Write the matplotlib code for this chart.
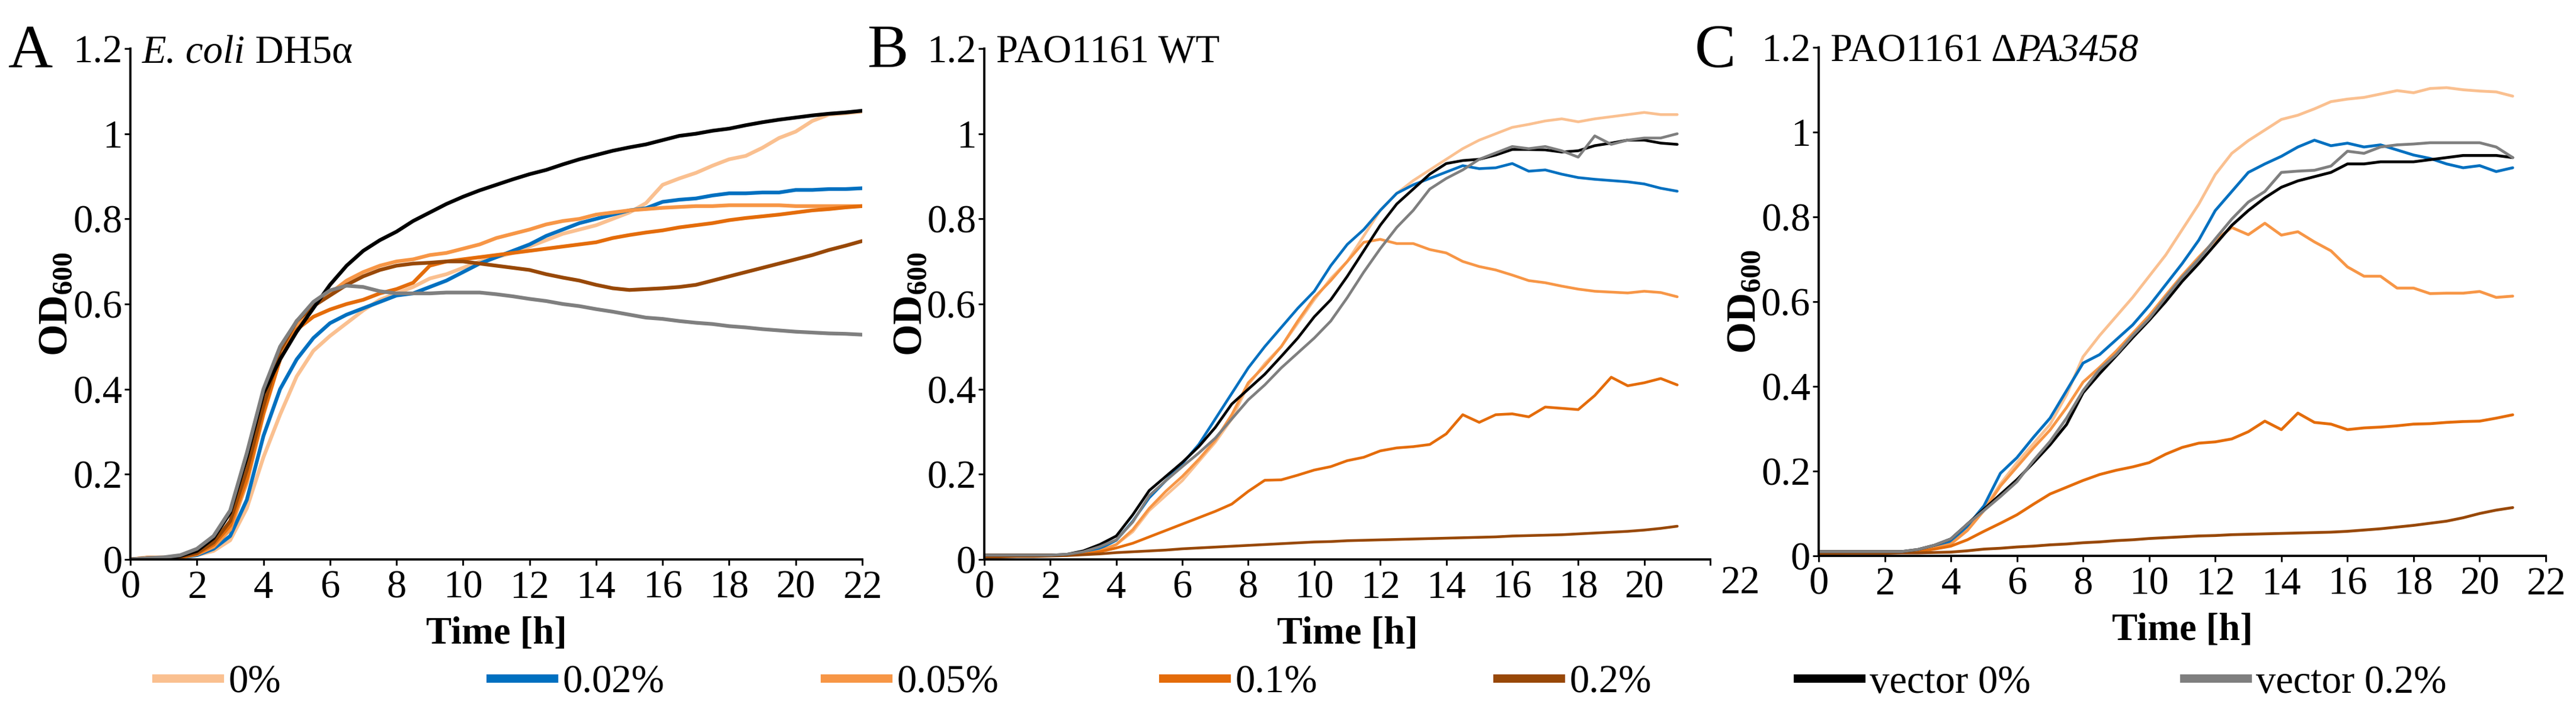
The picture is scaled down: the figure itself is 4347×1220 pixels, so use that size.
import numpy as np
import matplotlib.pyplot as plt
from matplotlib.transforms import blended_transform_factory

plt.rcParams['font.family'] = 'Liberation Serif'
plt.rcParams['mathtext.fontset'] = 'custom'
plt.rcParams['mathtext.rm'] = 'Liberation Serif'
plt.rcParams['mathtext.it'] = 'Liberation Serif:italic'
plt.rcParams['mathtext.bf'] = 'Liberation Serif:bold'

# ---- data (OD600, 0.5 h steps) ----
labels = ["0%", "0.02%", "0.05%", "0.1%", "0.2%", "vector 0%", "vector 0.2%"]
colors = ["#FAC090", "#0070C0", "#F79646", "#E46C0A", "#984807", "#000000", "#7F7F7F"]

time_a = np.arange(0, 22.01, 0.5)
time_bc = np.arange(0, 21.01, 0.5)

# A: E. coli DH5a
ecoli_0 = [0, 0.005, 0.005, 0.003, 0.01, 0.02, 0.045, 0.12, 0.24, 0.34, 0.43, 0.49, 0.525, 0.555, 0.585,
           0.61, 0.625, 0.64, 0.66, 0.67, 0.685, 0.70, 0.71, 0.72, 0.735, 0.75, 0.765, 0.775, 0.785, 0.80,
           0.815, 0.837, 0.88, 0.895, 0.908, 0.925, 0.94, 0.948, 0.967, 0.99, 1.005, 1.03, 1.045, 1.048, 1.052]
ecoli_002 = [0, 0.002, 0.003, 0.005, 0.01, 0.025, 0.055, 0.14, 0.29, 0.40, 0.47, 0.52, 0.555, 0.575, 0.59,
             0.605, 0.62, 0.625, 0.64, 0.655, 0.675, 0.695, 0.71, 0.725, 0.74, 0.76, 0.775, 0.79, 0.80, 0.81,
             0.82, 0.825, 0.84, 0.845, 0.848, 0.855, 0.86, 0.86, 0.862, 0.862, 0.868, 0.868, 0.87, 0.87, 0.872]
ecoli_005 = [0, 0.003, 0.004, 0.005, 0.012, 0.03, 0.07, 0.18, 0.34, 0.47, 0.55, 0.595, 0.625, 0.655, 0.675,
             0.69, 0.70, 0.705, 0.715, 0.72, 0.73, 0.74, 0.755, 0.765, 0.775, 0.787, 0.795, 0.80, 0.81, 0.815,
             0.82, 0.823, 0.826, 0.828, 0.83, 0.83, 0.832, 0.832, 0.832, 0.832, 0.83, 0.83, 0.83, 0.83, 0.83]
ecoli_01 = [0, 0.003, 0.004, 0.005, 0.013, 0.035, 0.08, 0.19, 0.345, 0.47, 0.54, 0.57, 0.587, 0.60, 0.61,
            0.625, 0.635, 0.65, 0.69, 0.70, 0.705, 0.71, 0.715, 0.72, 0.725, 0.73, 0.735, 0.74, 0.745, 0.755,
            0.762, 0.768, 0.773, 0.78, 0.785, 0.79, 0.797, 0.802, 0.806, 0.81, 0.815, 0.82, 0.823, 0.827, 0.83]
ecoli_02 = [0, 0.003, 0.004, 0.006, 0.015, 0.04, 0.09, 0.21, 0.36, 0.49, 0.56, 0.595, 0.62, 0.645, 0.665,
            0.68, 0.69, 0.695, 0.697, 0.70, 0.70, 0.695, 0.69, 0.685, 0.68, 0.67, 0.662, 0.655, 0.645, 0.637,
            0.633, 0.635, 0.637, 0.64, 0.645, 0.655, 0.665, 0.675, 0.685, 0.695, 0.705, 0.715, 0.727, 0.737, 0.748]
ecoli_v0 = [0, 0.002, 0.003, 0.008, 0.02, 0.05, 0.11, 0.24, 0.39, 0.47, 0.535, 0.59, 0.645, 0.69, 0.725,
            0.75, 0.77, 0.795, 0.815, 0.835, 0.852, 0.867, 0.88, 0.893, 0.905, 0.915, 0.928, 0.94, 0.95, 0.96,
            0.968, 0.975, 0.985, 0.995, 1.0, 1.007, 1.012, 1.02, 1.027, 1.033, 1.038, 1.043, 1.047, 1.05, 1.054]
ecoli_v02 = [0, 0.003, 0.005, 0.01, 0.025, 0.055, 0.115, 0.25, 0.40, 0.50, 0.56, 0.605, 0.632, 0.643, 0.64,
             0.63, 0.625, 0.625, 0.625, 0.627, 0.627, 0.627, 0.623, 0.618, 0.612, 0.607, 0.60, 0.595, 0.588,
             0.582, 0.575, 0.568, 0.565, 0.56, 0.556, 0.553, 0.548, 0.545, 0.541, 0.538, 0.535, 0.533, 0.531,
             0.53, 0.528]

# B: PAO1161 WT
wt_0 = [0.01, 0.01, 0.01, 0.01, 0.01, 0.01, 0.012, 0.02, 0.035, 0.065, 0.115, 0.15, 0.185, 0.23, 0.275,
        0.33, 0.41, 0.46, 0.50, 0.555, 0.61, 0.66, 0.70, 0.76, 0.82, 0.86, 0.89, 0.915, 0.94, 0.965,
        0.985, 1.0, 1.015, 1.022, 1.03, 1.035, 1.028, 1.035, 1.04, 1.045, 1.05, 1.045, 1.045]
wt_002 = [0.01, 0.01, 0.01, 0.01, 0.01, 0.01, 0.015, 0.025, 0.045, 0.09, 0.145, 0.185, 0.225, 0.27, 0.33,
          0.39, 0.45, 0.50, 0.545, 0.59, 0.63, 0.69, 0.74, 0.775, 0.82, 0.86, 0.88, 0.895, 0.91, 0.925,
          0.918, 0.92, 0.93, 0.912, 0.915, 0.905, 0.897, 0.893, 0.89, 0.887, 0.882, 0.872, 0.865]
wt_005 = [0.01, 0.01, 0.01, 0.01, 0.01, 0.01, 0.012, 0.02, 0.035, 0.07, 0.12, 0.16, 0.195, 0.235, 0.28,
          0.34, 0.415, 0.455, 0.50, 0.56, 0.615, 0.655, 0.70, 0.745, 0.752, 0.742, 0.742, 0.728, 0.72, 0.70,
          0.688, 0.68, 0.668, 0.655, 0.65, 0.642, 0.635, 0.63, 0.628, 0.626, 0.63, 0.627, 0.617]
wt_01 = [0.01, 0.01, 0.01, 0.01, 0.01, 0.01, 0.012, 0.018, 0.027, 0.038, 0.053, 0.068, 0.083, 0.098, 0.113,
         0.13, 0.16, 0.186, 0.187, 0.198, 0.21, 0.218, 0.232, 0.24, 0.255, 0.262, 0.265, 0.27, 0.295, 0.34,
         0.322, 0.34, 0.342, 0.335, 0.358, 0.355, 0.352, 0.385, 0.428, 0.408, 0.415, 0.425, 0.41]
wt_02 = [0.005, 0.006, 0.007, 0.007, 0.008, 0.009, 0.011, 0.013, 0.016, 0.018, 0.02, 0.022, 0.025, 0.027,
         0.029, 0.031, 0.033, 0.035, 0.037, 0.039, 0.041, 0.042, 0.044, 0.045, 0.046, 0.047, 0.048, 0.049,
         0.05, 0.051, 0.052, 0.053, 0.055, 0.056, 0.057, 0.058, 0.06, 0.062, 0.064, 0.066, 0.069, 0.073, 0.078]
wt_v0 = [0.01, 0.01, 0.01, 0.01, 0.01, 0.012, 0.02, 0.035, 0.055, 0.105, 0.162, 0.195, 0.228, 0.265, 0.31,
         0.365, 0.40, 0.435, 0.477, 0.52, 0.57, 0.61, 0.665, 0.725, 0.785, 0.835, 0.87, 0.905, 0.93, 0.937,
         0.94, 0.95, 0.963, 0.963, 0.962, 0.957, 0.96, 0.972, 0.978, 0.985, 0.985, 0.978, 0.975]
wt_v02 = [0.01, 0.01, 0.01, 0.01, 0.01, 0.012, 0.018, 0.03, 0.046, 0.088, 0.15, 0.185, 0.218, 0.25, 0.285,
          0.33, 0.375, 0.41, 0.45, 0.485, 0.52, 0.56, 0.615, 0.675, 0.73, 0.78, 0.82, 0.87, 0.895, 0.915,
          0.94, 0.955, 0.97, 0.965, 0.97, 0.96, 0.945, 0.995, 0.975, 0.985, 0.99, 0.99, 1.0]

# C: PAO1161 dPA3458
mut_0 = [0.01, 0.01, 0.01, 0.01, 0.01, 0.01, 0.012, 0.018, 0.03, 0.07, 0.11, 0.17, 0.22, 0.265, 0.31,
         0.38, 0.47, 0.52, 0.565, 0.61, 0.66, 0.71, 0.77, 0.83, 0.90, 0.95, 0.98, 1.005, 1.03, 1.04,
         1.055, 1.072, 1.078, 1.082, 1.09, 1.098, 1.093, 1.103, 1.105, 1.10, 1.097, 1.095, 1.085]
mut_002 = [0.01, 0.01, 0.01, 0.01, 0.01, 0.01, 0.013, 0.02, 0.035, 0.07, 0.118, 0.195, 0.232, 0.28, 0.325,
           0.39, 0.455, 0.475, 0.51, 0.545, 0.59, 0.64, 0.69, 0.745, 0.815, 0.86, 0.905, 0.925, 0.943, 0.965,
           0.981, 0.968, 0.974, 0.965, 0.97, 0.958, 0.946, 0.938, 0.925, 0.916, 0.921, 0.907, 0.916]
mut_005 = [0.01, 0.01, 0.01, 0.01, 0.01, 0.01, 0.012, 0.018, 0.028, 0.06, 0.107, 0.165, 0.21, 0.255, 0.297,
           0.35, 0.41, 0.445, 0.483, 0.525, 0.567, 0.615, 0.662, 0.705, 0.745, 0.775, 0.758, 0.785, 0.757,
           0.765, 0.741, 0.72, 0.682, 0.66, 0.66, 0.632, 0.632, 0.619, 0.62, 0.62, 0.624, 0.61, 0.613]
mut_01 = [0.008, 0.008, 0.008, 0.008, 0.008, 0.008, 0.01, 0.016, 0.023, 0.038, 0.058, 0.077, 0.097, 0.122,
          0.146, 0.162, 0.178, 0.192, 0.202, 0.21, 0.22, 0.24, 0.256, 0.266, 0.269, 0.276, 0.293, 0.318, 0.298,
          0.337, 0.315, 0.311, 0.298, 0.302, 0.304, 0.307, 0.311, 0.312, 0.315, 0.317, 0.318, 0.325, 0.333]
mut_02 = [0.005, 0.005, 0.006, 0.006, 0.006, 0.007, 0.007, 0.008, 0.009, 0.012, 0.016, 0.018, 0.021, 0.023,
          0.026, 0.028, 0.031, 0.033, 0.036, 0.038, 0.041, 0.043, 0.045, 0.047, 0.048, 0.05, 0.051, 0.052,
          0.053, 0.054, 0.055, 0.056, 0.058, 0.061, 0.064, 0.068, 0.072, 0.077, 0.082, 0.09, 0.10, 0.108, 0.114]
mut_v0 = [0.01, 0.01, 0.01, 0.01, 0.01, 0.01, 0.015, 0.025, 0.04, 0.075, 0.11, 0.145, 0.18, 0.22, 0.262,
          0.31, 0.385, 0.43, 0.472, 0.515, 0.556, 0.60, 0.648, 0.69, 0.735, 0.78, 0.815, 0.845, 0.87, 0.885,
          0.895, 0.905, 0.925, 0.925, 0.93, 0.93, 0.93, 0.935, 0.94, 0.945, 0.945, 0.945, 0.94]
mut_v02 = [0.01, 0.01, 0.01, 0.01, 0.01, 0.01, 0.015, 0.025, 0.04, 0.075, 0.107, 0.14, 0.175, 0.225, 0.27,
           0.325, 0.39, 0.44, 0.475, 0.52, 0.56, 0.61, 0.658, 0.70, 0.748, 0.795, 0.835, 0.86, 0.905, 0.908,
           0.91, 0.92, 0.955, 0.95, 0.965, 0.97, 0.972, 0.975, 0.975, 0.975, 0.975, 0.965, 0.94]

# titles as (text, fontstyle) pieces
panels = [
    ("A", [("E. coli", "italic"), (" DH5α", "normal")], time_a,
     [ecoli_0, ecoli_002, ecoli_005, ecoli_01, ecoli_02, ecoli_v0, ecoli_v02]),
    ("B", [("PAO1161 WT", "normal")], time_bc, [wt_0, wt_002, wt_005, wt_01, wt_02, wt_v0, wt_v02]),
    ("C", [("PAO1161 Δ", "normal"), ("PA3458", "italic")], time_bc,
     [mut_0, mut_002, mut_005, mut_01, mut_02, mut_v0, mut_v02]),
]

# ---- layout ----
W, H = 4347, 1220
fig = plt.figure(figsize=(W / 300, H / 300), dpi=300)

ax_rects = [
    [220 / W, 1 - 944 / H, 1235 / W, 862 / H],
    [1661 / W, 1 - 944 / H, 1225 / W, 862 / H],
    [3069 / W, 1 - 938 / H, 1227 / W, 858 / H],
]
letter_x = [14 / W, 1464 / W, 2860 / W]
line_w = [1.5, 1.1, 1.15]

FS = 16
yticks = [0, 0.2, 0.4, 0.6, 0.8, 1.0, 1.2]
ytick_labels = ["0", "0.2", "0.4", "0.6", "0.8", "1", "1.2"]
xticks = list(range(0, 23, 2))

handles = []
for i, (letter, title_parts, t, series) in enumerate(panels):
    ax = fig.add_axes(ax_rects[i])
    for j, vals in enumerate(series):
        ax.plot(t, vals, color=colors[j], lw=line_w[i], label=labels[j], solid_capstyle="round")
    ax.set_xlim(0, 22)
    ax.set_ylim(0, 1.2)
    ax.set_xticks(xticks)
    ax.set_yticks(yticks)
    ax.set_yticklabels(ytick_labels)
    for s in ["top", "right"]:
        ax.spines[s].set_visible(False)
    for s in ["left", "bottom"]:
        ax.spines[s].set_linewidth(0.9)
    ax.tick_params(axis="both", labelsize=FS, width=0.7, length=2.3, direction="out")
    ax.tick_params(axis="y", pad=1)
    ax.tick_params(axis="x", pad=2)

    if i == 1:
        # the "22" label of panel B sits off to the right of its tick
        ax.set_xticklabels([str(v) for v in xticks[:-1]] + [""])
        ax.annotate("22", xy=(22, 0), xytext=(12, -2.4), textcoords="offset points",
                    ha="center", va="top", fontsize=FS, annotation_clip=False)

    ax.set_xlabel("Time [h]", fontsize=15.5, fontweight="bold")
    ax.xaxis.set_label_coords(0.5, -0.146)
    ax.xaxis.label.set_va("center")
    ax.set_ylabel(r"$\mathbf{OD}_{\mathbf{600}}$", fontsize=16.5)
    ax.yaxis.set_label_coords(-0.101, 0.5)
    ax.yaxis.label.set_va("center")

    # title next to the "1.2" tick label, pieces chained left to right
    trans = blended_transform_factory(ax.transAxes, ax.transData)
    first_txt, first_style = title_parts[0]
    prev = ax.text(0.016, 1.2, first_txt, transform=trans, ha="left", va="center_baseline",
                   fontsize=FS, fontstyle=first_style)
    for txt, style in title_parts[1:]:
        prev = ax.annotate(txt, xy=(1, 0), xycoords=prev, ha="left", va="bottom",
                           fontsize=FS, fontstyle=style)

    fig.text(letter_x[i], 0.907, letter, fontsize=25, ha="left", va="baseline")

    if i == 0:
        handles = ax.get_lines()

# ---- legend row, one entry per slot ----
leg_x = [264, 828, 1392, 1963, 2527, 3034, 3686]
for h, x in zip(handles, leg_x):
    proxy = plt.Line2D([], [], color=h.get_color(), lw=3.4)
    fig.legend([proxy], [h.get_label()], loc="center left", bbox_to_anchor=(x / W, 0.0557),
               frameon=False, fontsize=FS, handlelength=1.6, handletextpad=0.22,
               borderpad=0, borderaxespad=0)

fig.savefig("out.png", dpi=300)
